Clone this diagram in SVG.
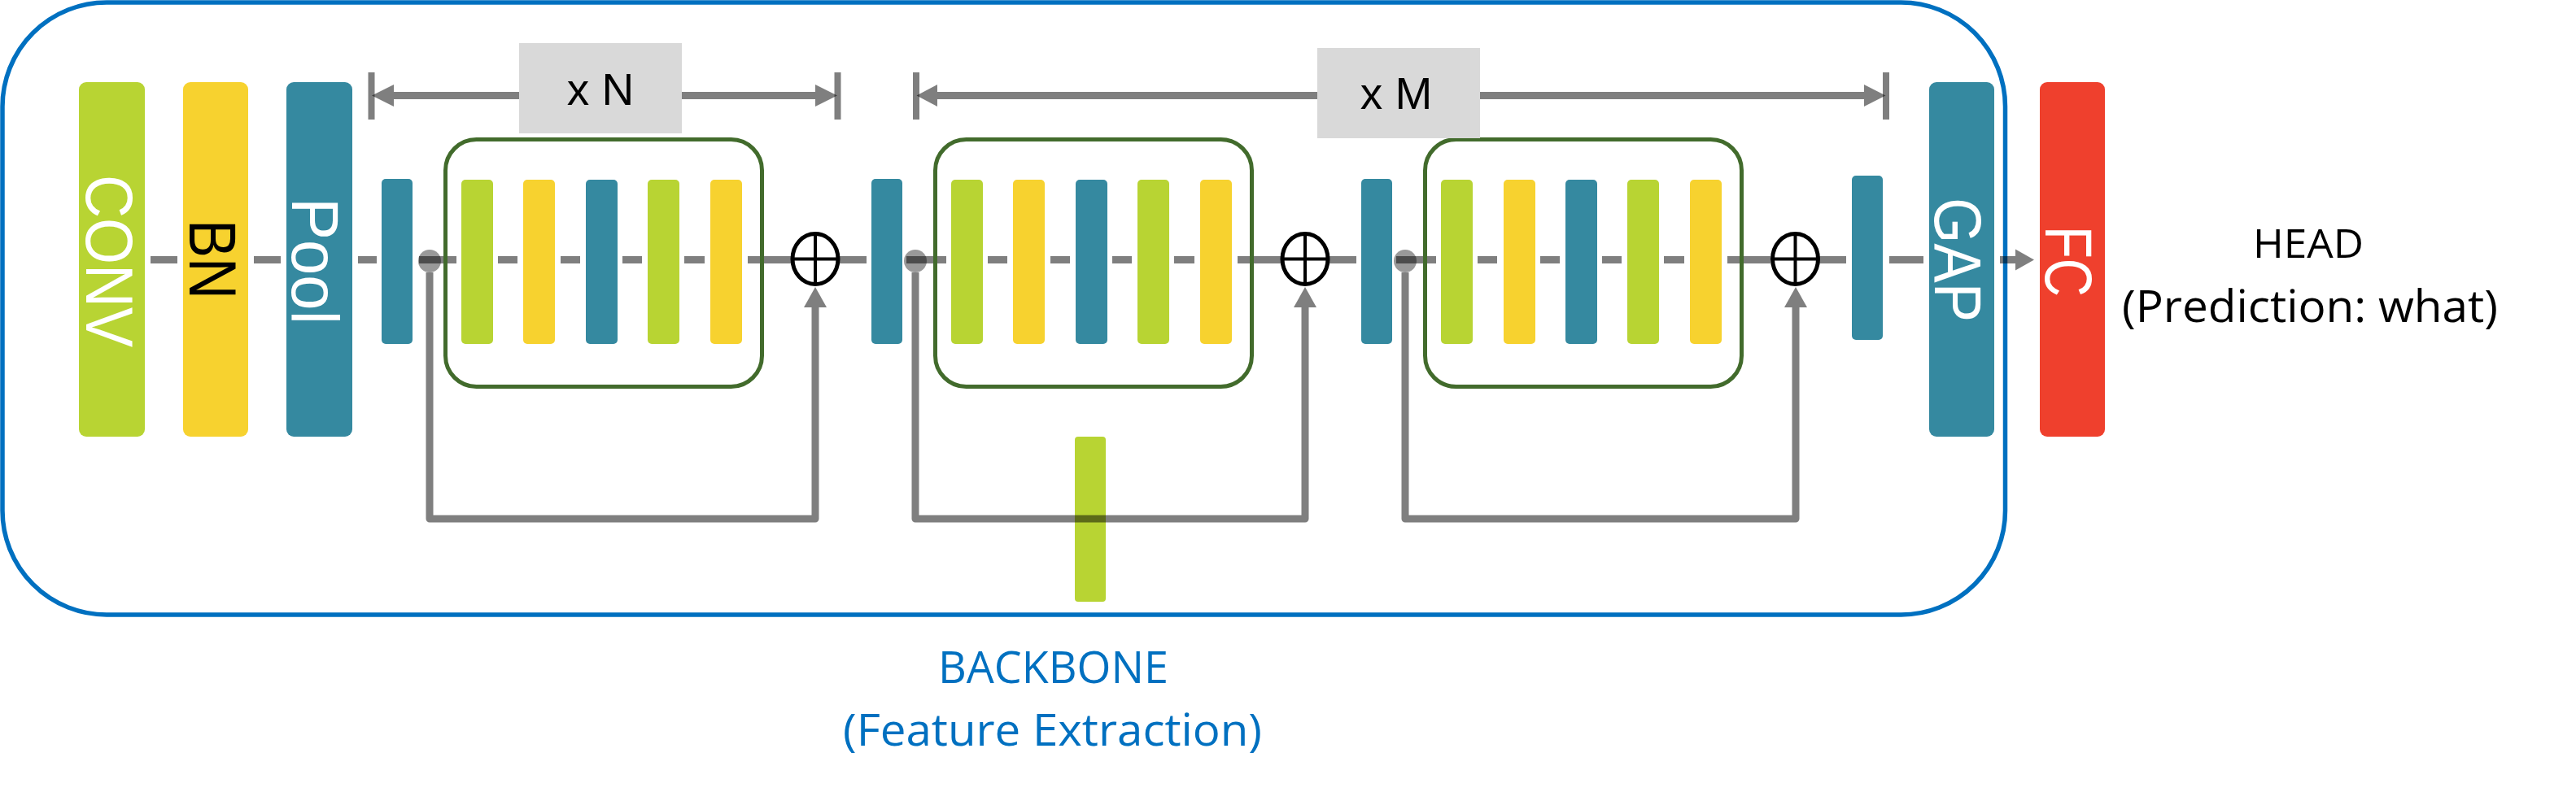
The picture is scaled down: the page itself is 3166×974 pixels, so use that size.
<svg xmlns="http://www.w3.org/2000/svg" width="3166" height="974" viewBox="0 0 3166 974">
<style>
.teal{fill:#3589A0}
.lime{fill:#B8D433}
.yel{fill:#F7D22F}
.red{fill:#EF402D}
.conn{stroke:#000;stroke-opacity:.5;stroke-width:9;fill:none}
.tick{stroke:#000;stroke-opacity:.5;stroke-width:8;fill:none}
.head{fill:#000;fill-opacity:.5;stroke:none}
.grp{fill:none;stroke:#426B2C;stroke-width:5}
.dot{fill:#000;fill-opacity:.4}
.plus{fill:#fff;stroke:#000;stroke-width:5}
.cross{stroke:#000;stroke-width:4}
.rot{font-family:"Liberation Sans",Arial,sans-serif;text-anchor:middle}
.lbl{font-family:"Open Sans","Noto Sans",sans-serif;text-anchor:middle}
.span{font-family:"Liberation Sans",Arial,sans-serif;font-size:55px;text-anchor:middle;fill:#000}
.box{fill:#D9D9D9}
</style>

<g id="backbone-frame">
<rect x="3" y="3" width="2461.5" height="753" rx="128" ry="128" fill="none" stroke="#0070C0" stroke-width="5.5"/>
</g>

<g id="side-bar">
<rect class="lime" x="1321" y="537" width="38" height="203" rx="4"/>
</g>

<g id="connectors">
<!-- main line dashes -->
<path class="conn" d="M185,319.5H218 M312,319.5H345 M440,319.5H463"/>
<!-- block 1 -->
<path class="conn" d="M515,319.5H561 M612,319.5H636 M689,319.5H713 M765,319.5H789 M841,319.5H866 M919,319.5H972 M1032,319.5H1065"/>
<!-- block 2 -->
<path class="conn" d="M1114,319.5H1163 M1214,319.5H1238 M1291,319.5H1315 M1367,319.5H1391 M1443,319.5H1468 M1521,319.5H1574 M1634,319.5H1667"/>
<!-- block 3 -->
<path class="conn" d="M1716,319.5H1765 M1816,319.5H1840 M1893,319.5H1917 M1969,319.5H1993 M2045,319.5H2070 M2123,319.5H2176 M2236,319.5H2269"/>
<!-- tail -->
<path class="conn" d="M2322,319.5H2364 M2458,319.5H2477"/>
<polygon class="head" points="2477,306.5 2500,319.5 2477,332.5"/>
<!-- skip connections -->
<path class="conn" d="M528,335V638H1002V378" stroke-linejoin="round"/>
<polygon class="head" points="988,378 1002,353 1016,378"/>
<path class="conn" d="M1125,335V638H1604V378" stroke-linejoin="round"/>
<polygon class="head" points="1590,378 1604,353 1618,378"/>
<path class="conn" d="M1727,335V638H2207V378" stroke-linejoin="round"/>
<polygon class="head" points="2193,378 2207,353 2221,378"/>
<!-- span xN -->
<path class="tick" d="M456.5,89V147 M1029.5,89V147"/>
<path class="conn" d="M484,117.5H638 M838,117.5H1002"/>
<polygon class="head" points="457,117.5 484,104 484,131"/>
<polygon class="head" points="1029,117.5 1002,104 1002,131"/>
<!-- span xM -->
<path class="tick" d="M1126,89V147 M2318,89V147"/>
<path class="conn" d="M1152,117.5H1619 M1819,117.5H2291"/>
<polygon class="head" points="1126.5,117.5 1152,104 1152,131"/>
<polygon class="head" points="2317.5,117.5 2291,104 2291,131"/>
</g>

<g id="conv"><rect class="lime" x="97" y="101" width="81" height="436" rx="9"/>
<text class="rot" transform="translate(106,321) rotate(90)" font-size="81" fill="#fff" textLength="212" lengthAdjust="spacingAndGlyphs">CONV</text></g>
<g id="bn"><rect class="yel" x="225" y="101" width="80" height="436" rx="9"/>
<text class="rot" transform="translate(233,319) rotate(90)" font-size="81" fill="#000" textLength="98" lengthAdjust="spacingAndGlyphs">BN</text></g>
<g id="pool"><rect class="teal" x="352" y="101" width="81" height="436" rx="9"/>
<text class="rot" transform="translate(359,321) rotate(90)" font-size="81" fill="#fff" textLength="156" lengthAdjust="spacingAndGlyphs">Pool</text></g>

<!-- block 1 -->
<g id="block1">
<rect class="grp" x="547.5" y="171.5" width="389" height="304" rx="38"/>
<rect class="teal" x="469" y="220" width="38" height="203" rx="5"/>
<rect class="lime" x="567" y="221" width="39" height="202" rx="5"/>
<rect class="yel" x="643" y="221" width="39" height="202" rx="5"/>
<rect class="teal" x="720" y="221" width="39" height="202" rx="5"/>
<rect class="lime" x="796" y="221" width="39" height="202" rx="5"/>
<rect class="yel" x="873" y="221" width="39" height="202" rx="5"/>
<circle class="dot" cx="528" cy="321" r="14"/>
<ellipse class="plus" cx="1002" cy="318.5" rx="28" ry="31"/>
<path class="cross" d="M974,318.5H1030 M1002,287.5V349.5"/>
</g>

<!-- block 2 -->
<g id="block2">
<rect class="grp" x="1149.5" y="171.5" width="389" height="304" rx="38"/>
<rect class="teal" x="1071" y="220" width="38" height="203" rx="5"/>
<rect class="lime" x="1169" y="221" width="39" height="202" rx="5"/>
<rect class="yel" x="1245" y="221" width="39" height="202" rx="5"/>
<rect class="teal" x="1322" y="221" width="39" height="202" rx="5"/>
<rect class="lime" x="1398" y="221" width="39" height="202" rx="5"/>
<rect class="yel" x="1475" y="221" width="39" height="202" rx="5"/>
<circle class="dot" cx="1125" cy="321" r="14"/>
<ellipse class="plus" cx="1604" cy="318.5" rx="28" ry="31"/>
<path class="cross" d="M1576,318.5H1632 M1604,287.5V349.5"/>
</g>

<!-- block 3 -->
<g id="block3">
<rect class="grp" x="1751.5" y="171.5" width="389" height="304" rx="38"/>
<rect class="teal" x="1673" y="220" width="38" height="203" rx="5"/>
<rect class="lime" x="1771" y="221" width="39" height="202" rx="5"/>
<rect class="yel" x="1848" y="221" width="39" height="202" rx="5"/>
<rect class="teal" x="1924" y="221" width="39" height="202" rx="5"/>
<rect class="lime" x="2000" y="221" width="39" height="202" rx="5"/>
<rect class="yel" x="2077" y="221" width="39" height="202" rx="5"/>
<circle class="dot" cx="1727" cy="321" r="14"/>
<ellipse class="plus" cx="2206.5" cy="318.5" rx="28" ry="31"/>
<path class="cross" d="M2178.5,318.5H2234.5 M2206.5,287.5V349.5"/>
</g>

<g id="bar-final"><rect class="teal" x="2276" y="216" width="38" height="202" rx="5"/></g>
<g id="gap"><rect class="teal" x="2371" y="101" width="80" height="436" rx="9"/>
<text class="rot" transform="translate(2378,319.5) rotate(90)" font-size="81" fill="#fff" textLength="153" lengthAdjust="spacingAndGlyphs">GAP</text></g>
<g id="fc"><rect class="red" x="2507" y="101" width="80" height="436" rx="9"/>
<text class="rot" transform="translate(2514,321.5) rotate(90)" font-size="81" fill="#fff" textLength="87" lengthAdjust="spacingAndGlyphs">FC</text></g>

<g id="repeat-n"><rect class="box" x="638" y="53" width="200" height="111"/>
<text class="span" x="738" y="129">x N</text></g>
<g id="repeat-m"><rect class="box" x="1619" y="59" width="200" height="111"/>
<text class="span" x="1716" y="134">x M</text></g>

<g id="head-label">
<text class="lbl" x="2837" y="317" font-size="50" fill="#000" textLength="136" lengthAdjust="spacingAndGlyphs">HEAD</text>
<text class="lbl" x="2839" y="396" font-size="54" fill="#000" textLength="462" lengthAdjust="spacingAndGlyphs">(Prediction: what)</text>
</g>
<g id="backbone-label">
<text class="lbl" x="1294.5" y="840" font-size="55" fill="#0070C0" textLength="283" lengthAdjust="spacingAndGlyphs">BACKBONE</text>
<text class="lbl" x="1293.5" y="917" font-size="55" fill="#0070C0" textLength="515" lengthAdjust="spacingAndGlyphs">(Feature Extraction)</text>
</g>
</svg>
